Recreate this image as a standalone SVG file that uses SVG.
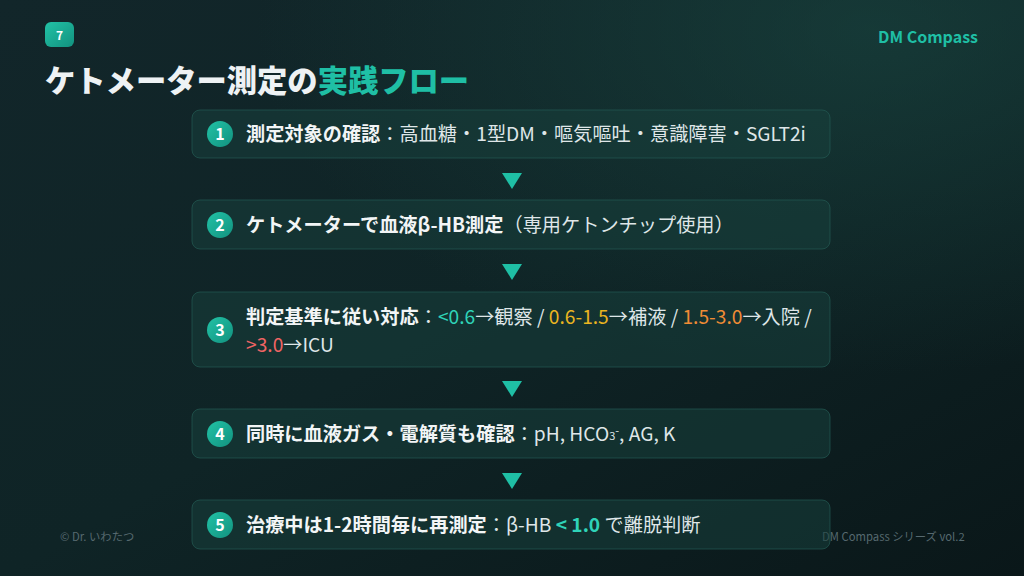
<svg xmlns="http://www.w3.org/2000/svg" width="1024" height="576" viewBox="0 0 1024 576">
<defs>
<linearGradient id="bg" x1="0" y1="0" x2="1" y2="1">
<stop offset="0" stop-color="#12262a"/>
<stop offset="0.5" stop-color="#0f2426"/>
<stop offset="1" stop-color="#0a1719"/>
</linearGradient>
<radialGradient id="glow" cx="0.85" cy="0.05" r="0.6">
<stop offset="0" stop-color="#1b4a44" stop-opacity="0.55"/>
<stop offset="1" stop-color="#1b4a44" stop-opacity="0"/>
</radialGradient>
<linearGradient id="teal" x1="0" y1="0" x2="1" y2="1">
<stop offset="0" stop-color="#22c2a6"/>
<stop offset="1" stop-color="#12927f"/>
</linearGradient>
<style>
.box{fill:#17403c;fill-opacity:0.55;stroke:#235a53;stroke-opacity:0.7;stroke-width:1}
.num{fill:url(#teal)}
.numt{font-family:"Noto Sans CJK JP","Noto Sans",sans-serif;font-weight:700;font-size:16px;fill:#ffffff;text-anchor:middle}
.t{font-family:"Noto Sans CJK JP","Noto Sans",sans-serif;font-size:19.2px;fill:#dfe6e8}
.b{font-weight:700;fill:#f2f5f6}
.arr{fill:#1fbfa5}
.foot{font-family:"Noto Sans CJK JP","Noto Sans",sans-serif;font-size:11.3px;fill:#56696f}
</style>
</defs>
<rect width="1024" height="576" fill="url(#bg)"/>
<rect width="1024" height="576" fill="url(#glow)"/>

<g id="header">
<rect x="45" y="22" width="29" height="25" rx="6" fill="url(#teal)"/>
<text x="59.5" y="40" font-family="Noto Sans CJK JP,sans-serif" font-weight="700" font-size="12" fill="#ffffff" text-anchor="middle">7</text>
<text x="978" y="43" font-family="Noto Sans CJK JP,sans-serif" font-weight="700" font-size="16" fill="#1fbfa5" text-anchor="end">DM Compass</text>
<text x="45" y="92" font-family="'Noto Sans CJK JP',sans-serif" font-weight="900" font-size="30.3" fill="#eef2f4">ケトメーター測定の<tspan fill="#1fbfa5">実践フロー</tspan></text>
</g>

<g id="footer">
<text class="foot" x="60" y="541">© Dr. いわたつ</text>
<text class="foot" x="822" y="541">DM Compass シリーズ vol.2</text>
</g>

<g id="connectors">
<polygon class="arr" points="502,173 522,173 512,189"/>
<polygon class="arr" points="502,264 522,264 512,280"/>
<polygon class="arr" points="502,381 522,381 512,397"/>
<polygon class="arr" points="502,473 522,473 512,489"/>
</g>

<g id="step1">
<rect class="box" x="192" y="110" width="638" height="48" rx="8"/>
<circle class="num" cx="220" cy="134" r="13"/>
<text class="numt" x="220" y="139.5">1</text>
<text class="t" x="246" y="141"><tspan class="b">測定対象の確認</tspan>：高血糖・1型DM・嘔気嘔吐・意識障害・SGLT2i</text>
</g>

<g id="step2">
<rect class="box" x="192" y="200" width="638" height="49" rx="8"/>
<circle class="num" cx="220" cy="225" r="13"/>
<text class="numt" x="220" y="230.5">2</text>
<text class="t" x="246" y="232"><tspan class="b">ケトメーターで血液β-HB測定</tspan>（専用ケトンチップ使用）</text>
</g>

<g id="step3">
<rect class="box" x="192" y="292" width="638" height="75" rx="8"/>
<circle class="num" cx="220" cy="330" r="13"/>
<text class="numt" x="220" y="335.5">3</text>
<text class="t" x="246" y="324"><tspan class="b">判定基準に従い対応</tspan>：<tspan fill="#2fd3b8">&lt;0.6</tspan>→観察 / <tspan fill="#eab520">0.6-1.5</tspan>→補液 / <tspan fill="#ef8c35">1.5-3.0</tspan>→入院 /</text>
<text class="t" x="246" y="352"><tspan fill="#ef6464">&gt;3.0</tspan>→ICU</text>
</g>

<g id="step4">
<rect class="box" x="192" y="409" width="638" height="49" rx="8"/>
<circle class="num" cx="220" cy="434" r="13"/>
<text class="numt" x="220" y="439.5">4</text>
<text class="t" x="246" y="441"><tspan class="b">同時に血液ガス・電解質も確認</tspan>：pH, HCO<tspan font-size="11" dy="-1">3</tspan><tspan font-size="11" dy="-5">-</tspan><tspan dy="6">, AG, K</tspan></text>
</g>

<g id="step5">
<rect class="box" x="192" y="500" width="638" height="49" rx="8"/>
<circle class="num" cx="220" cy="525" r="13"/>
<text class="numt" x="220" y="530.5">5</text>
<text class="t" x="246" y="532"><tspan class="b">治療中は1-2時間毎に再測定</tspan>：β-HB <tspan font-weight="700" fill="#2fd3b8">&lt; 1.0</tspan> で離脱判断</text>
</g>
</svg>
